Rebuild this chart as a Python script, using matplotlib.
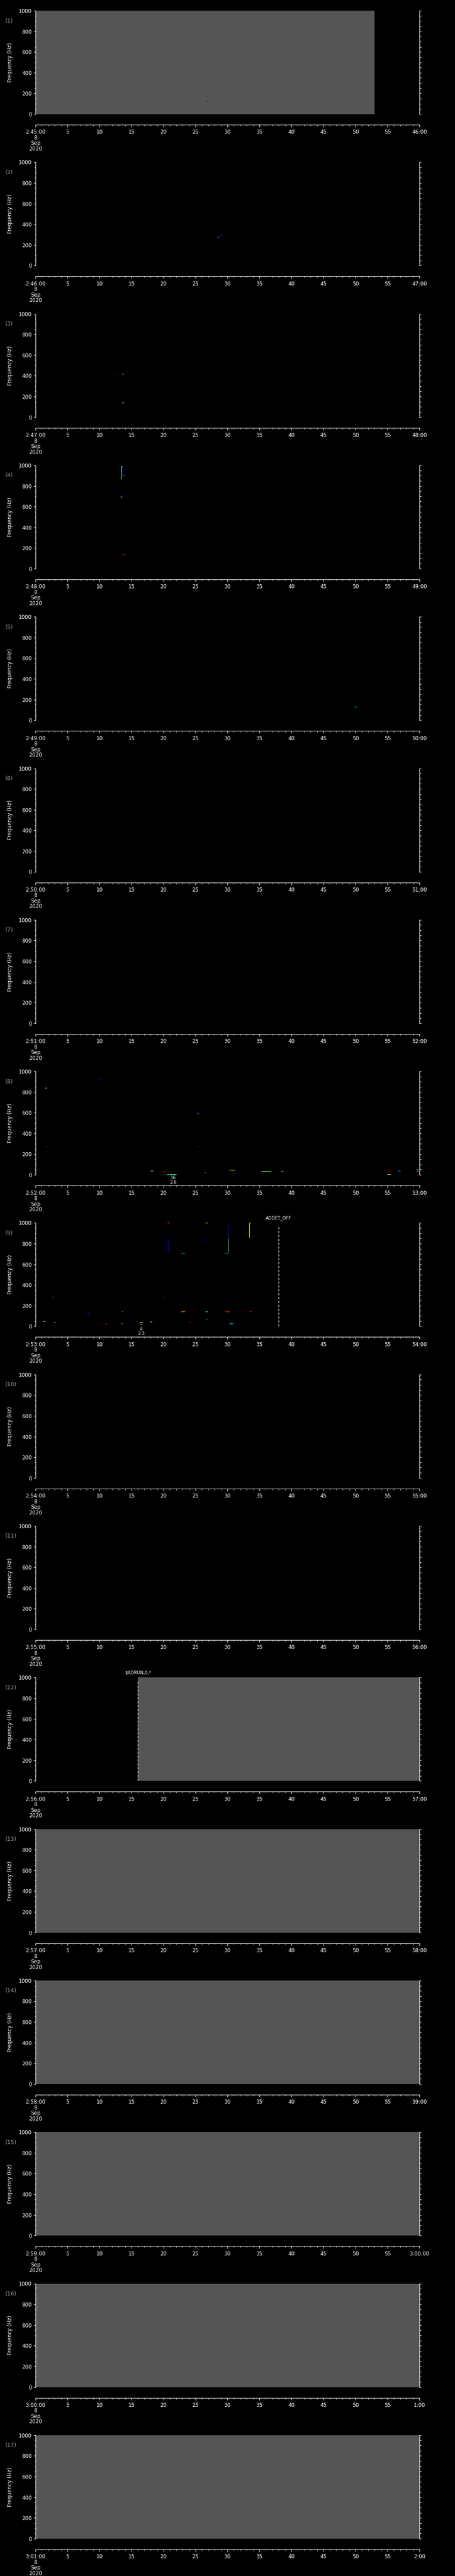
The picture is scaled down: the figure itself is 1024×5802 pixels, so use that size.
import numpy as np
import matplotlib.pyplot as plt
from matplotlib.ticker import MultipleLocator

W, H = 1024, 5802
PITCH = 341.3
TOP0 = 24
AX_H = 233
AX_L, AX_W = 80, 864

# start of each panel (minute after 2:45:00) and the label of the right end tick
start_labels = ['2:45:00', '2:46:00', '2:47:00', '2:48:00', '2:49:00', '2:50:00',
                '2:51:00', '2:52:00', '2:53:00', '2:54:00', '2:55:00', '2:56:00',
                '2:57:00', '2:58:00', '2:59:00', '3:00:00', '3:01:00']
end_labels = ['46:00', '47:00', '48:00', '49:00', '50:00', '51:00', '52:00', '53:00',
              '54:00', '55:00', '56:00', '57:00', '58:00', '59:00', '3:00:00', '1:00', '2:00']

# gray "no data" spans (panel, t0, t1) in seconds
gap_panel = [1, 12, 13, 14, 15, 16, 17]
gap_t0 = [0, 16, 0, 0, 0, 0, 0]
gap_t1 = [53, 60, 60, 60, 60, 60, 60]

# event markers (panel, time, text)
ev_panel = [9, 12]
ev_t = [38, 16]
ev_text = ['ADDET_OFF', r'\$ADRUN,0,*']

# small notes under the plot (panel, time, text)
note_panel = [8, 9]
note_t = [21.5, 16.5]
note_text = ['16\n2.6', '4\n2.3']

# detected spectral fragments: panel, t0, t1, f0, f1, colour value (jet)
seg_panel = [1, 1,
             2, 2,
             3, 3,
             4, 4, 4, 4, 4, 4, 4, 4,
             5,
             8, 8, 8, 8, 8, 8, 8, 8, 8, 8, 8, 8, 8, 8, 8, 8, 8, 8, 8, 8,
             9, 9, 9, 9, 9, 9, 9, 9, 9, 9, 9, 9, 9, 9, 9, 9, 9, 9, 9, 9,
             9, 9, 9, 9, 9, 9, 9, 9, 9, 9, 9, 9, 9]
seg_t0 = [26.8, 26.7,
          28.3, 28.6,
          13.5, 13.5,
          13.4, 13.4, 13.6, 13.6, 13.3, 13.5, 13.4, 13.7,
          49.8,
          1.5, 9.8, 25.2, 1.5, 25.2, 18.0, 20.0, 20.6, 20.5, 26.4, 30.3, 31.0, 35.3, 38.4, 38.4, 54.9, 54.9, 56.7, 59.5, 59.5,
          20.5, 20.7, 26.5, 26.6, 22.7, 29.5, 30.1, 30.1, 33.5, 33.4, 2.6, 20.0, 1.2, 2.8, 8.1, 10.8, 13.4, 13.3, 16.2, 16.3,
          16.3, 17.9, 22.7, 23.9, 26.5, 26.6, 29.5, 30.0, 30.3, 33.4, 8.2, 20.7, 26.6]
seg_t1 = [27.1, 26.8,
          28.6, 29.2,
          13.8, 13.8,
          13.4, 13.6, 13.6, 13.9, 13.5, 13.8, 13.7, 13.9,
          50.2,
          1.8, 10.0, 25.5, 1.8, 25.5, 18.3, 20.3, 20.9, 22.0, 26.6, 31.2, 31.3, 36.8, 38.7, 38.7, 55.5, 55.5, 57.0, 59.8, 59.8,
          21.0, 20.7, 26.9, 26.6, 23.3, 30.0, 30.1, 30.1, 33.7, 33.4, 2.9, 20.3, 1.5, 3.1, 8.4, 11.1, 13.7, 13.6, 16.6, 16.8,
          16.7, 18.2, 23.3, 24.2, 26.9, 26.9, 30.0, 30.3, 30.8, 33.75, 8.2, 20.9, 26.9]
seg_f0 = [130, 118,
          275, 280,
          420, 140,
          870, 990, 990, 905, 690, 705, 137, 137,
          130,
          837, 923, 596, 275, 279, 39, 30, 30, 4, 21, 47, 17, 34, 56, 34, 39, 4, 39, 52, 34,
          1000, 850, 1000, 850, 712, 712, 1000, 850, 1000, 858, 283, 283, 47, 39, 133, 26, 142, 26, 39, 34,
          17, 43, 142, 39, 142, 69, 142, 142, 26, 142, 120, 1000, 1000]
seg_f1 = [130, 130,
          275, 300,
          410, 140,
          990, 990, 905, 905, 700, 715, 137, 137,
          130,
          840, 923, 596, 275, 279, 39, 30, 30, 4, 21, 47, 17, 34, 56, 34, 39, 4, 39, 52, 34,
          1000, 708, 1000, 814, 712, 712, 850, 708, 1000, 1000, 283, 283, 47, 39, 133, 26, 142, 26, 39, 34,
          17, 43, 142, 39, 142, 69, 142, 142, 26, 142, 133, 1000, 1000]
seg_c = [0.95, 0.1,
         0.85, 0.15,
         0.3, 0.5,
         0.5, 0.5, 0.1, 0.3, 0.5, 0.1, 0.95, 0.8,
         0.3,
         0.7, 0.15, 0.25, 0.95, 0.95, 0.55, 0.3, 0.95, 0.4, 0.25, 0.65, 0.1, 0.5, 0.1, 0.65, 0.95, 0.5, 0.3, 0.4, 0.8,
         0.9, 0.12, 0.65, 0.12, 0.35, 0.35, 0.12, 0.5, 0.6, 0.6, 0.2, 0.95, 0.65, 0.8, 0.1, 0.9, 0.85, 0.3, 0.8, 0.65,
         0.35, 0.65, 0.75, 0.9, 0.45, 0.3, 0.9, 0.8, 0.35, 0.9, 0.1, 0.75, 0.55]

cmap = plt.get_cmap('jet')
GRAY = '#555555'
TXT = 'white'

fig = plt.figure(figsize=(W / 100, H / 100), dpi=100)
fig.set_facecolor('black')

ticks = list(range(0, 61, 5))

for k in range(17):
    p = k + 1
    top = TOP0 + k * PITCH
    ax = fig.add_axes([AX_L / W, 1 - (top + AX_H) / H, AX_W / W, AX_H / H])
    ax.set_facecolor('black')
    ax.set_xlim(0, 60)
    ax.set_ylim(0, 1000)

    for i in range(len(gap_panel)):
        if gap_panel[i] == p:
            ax.axvspan(gap_t0[i], gap_t1[i], color=GRAY, lw=0)

    for i in range(len(seg_panel)):
        if seg_panel[i] == p:
            ax.plot([seg_t0[i], seg_t1[i]], [seg_f0[i], seg_f1[i]],
                    color=cmap(seg_c[i]), lw=0.9, solid_capstyle='butt')

    for i in range(len(ev_panel)):
        if ev_panel[i] == p:
            ax.plot([ev_t[i], ev_t[i]], [0, 975], color='white', lw=0.9,
                    ls=(0, (4, 3)))
            ax.text(ev_t[i], 1025, ev_text[i], color=TXT, fontsize=7,
                    ha='center', va='bottom')

    for i in range(len(note_panel)):
        if note_panel[i] == p:
            ax.text(note_t[i], -8, note_text[i], color=TXT, fontsize=7,
                    ha='center', va='top', linespacing=0.95, clip_on=False)

    # spines
    ax.spines['top'].set_visible(False)
    ax.spines['right'].set_visible(False)
    ax.spines['left'].set_color('white')
    ax.spines['bottom'].set_color('white')
    ax.spines['bottom'].set_position(('outward', 17.3))

    ax.yaxis.set_major_locator(MultipleLocator(200))
    ax.yaxis.set_minor_locator(MultipleLocator(50))
    ax.set_xticks(ticks)
    ax.xaxis.set_minor_locator(MultipleLocator(1))
    xl = [str(t) for t in ticks]
    xl[0] = start_labels[k] + '\n8\nSep\n2020'
    xl[-1] = end_labels[k]
    ax.set_xticklabels(xl, linespacing=0.95)

    ax.tick_params(axis='both', which='both', colors='white', labelcolor=TXT,
                   direction='out', labelsize=8.5)
    ax.tick_params(axis='y', which='major', length=3, pad=3)
    ax.tick_params(axis='y', which='minor', length=1.5)
    ax.tick_params(axis='x', which='major', length=3.5, pad=4)
    ax.tick_params(axis='x', which='minor', length=2)

    # right hand frequency axis
    ax2 = ax.twinx()
    ax2.set_ylim(0, 1000)
    for s in ['top', 'left', 'bottom']:
        ax2.spines[s].set_visible(False)
    ax2.spines['right'].set_color('white')
    ax2.yaxis.set_major_locator(MultipleLocator(50))
    ax2.yaxis.set_ticklabels([])
    ax2.tick_params(axis='y', colors='white', direction='out', length=3)

    # panel number and y label
    fig.text(12 / W, 1 - (top + 23) / H, '(%d)' % p, color='#9a9a9a',
             fontsize=9, ha='left', va='center')
    fig.text(23 / W, 1 - (top + AX_H / 2) / H, 'Frequency (Hz)', color=TXT,
             fontsize=8.5, rotation=90, ha='center', va='center')

fig.savefig('out.png', dpi=100, facecolor='black')
